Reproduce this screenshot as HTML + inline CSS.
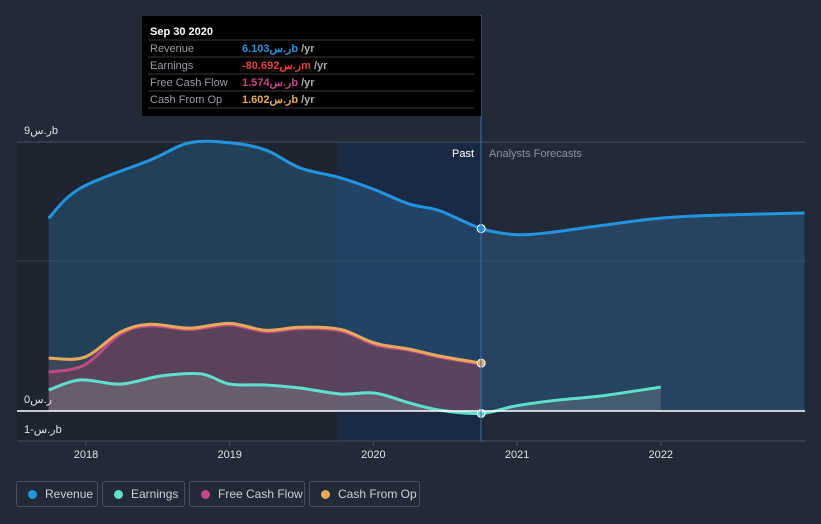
<!DOCTYPE html>
<html><head><meta charset="utf-8"><style>
body{margin:0;background:#232a37;font-family:"Liberation Sans","Noto Sans CJK SC",sans-serif;}
#wrap{position:relative;width:821px;height:524px;overflow:hidden;}
.leg{position:absolute;top:481px;height:26px;border:1px solid #4a515e;border-radius:3px;color:#cdd0d6;font-size:12px;line-height:25px;box-sizing:border-box;padding-left:27px;white-space:nowrap;}
.leg i{position:absolute;left:11px;top:8px;width:9px;height:9px;border-radius:50%;}
</style></head><body><div id="wrap">
<svg id="svg" width="821" height="524" style="position:absolute;left:0;top:0">
<rect x="17" y="142" width="320" height="299" fill="#1f2530"/>
<rect x="337" y="142" width="144" height="299" fill="#1a2a44"/>
<line x1="17" x2="805" y1="142" y2="142" stroke="#4a505c"/>
<line x1="17" x2="805" y1="261" y2="261" stroke="#3a404c"/>
<line x1="17" x2="805" y1="441" y2="441" stroke="#4a505c"/>
<g id="series"></g>
<line x1="17" x2="805" y1="411" y2="411" stroke="#ffffff" stroke-width="1.5"/>
<line x1="481" x2="481" y1="15" y2="441" stroke="#3f6fa8"/>
<text x="24" y="134" fill="#e0e2e6" font-size="11">ر.س9b</text>
<text x="24" y="403" fill="#e0e2e6" font-size="11">ر.س0</text>
<text x="24" y="433" fill="#e0e2e6" font-size="11">ر.س-1b</text>
<text x="474" y="157" fill="#fff" font-size="11" text-anchor="end">Past</text>
<text x="489" y="157" fill="#8a909b" font-size="11">Analysts Forecasts</text>
<g id="xt"></g>
<rect x="142" y="16" width="339" height="100" fill="#000"/>
<text x="150" y="35" fill="#fff" font-size="11" font-weight="bold">Sep 30 2020</text>
<g stroke="#3a3a3a"><line x1="148" x2="474" y1="40" y2="40"/><line x1="148" x2="474" y1="57" y2="57"/><line x1="148" x2="474" y1="74" y2="74"/><line x1="148" x2="474" y1="91" y2="91"/><line x1="148" x2="474" y1="108" y2="108"/></g>
<g font-size="11" fill="#9a9ea6">
<text x="150" y="52">Revenue</text><text x="150" y="69">Earnings</text><text x="150" y="86">Free Cash Flow</text><text x="150" y="103">Cash From Op</text></g>
<g font-size="11" font-weight="bold">
<text x="242" y="52" fill="#2394df">6.103ر.سb <tspan fill="#aaa">/yr</tspan></text>
<text x="242" y="69" fill="#e8413e">-80.692ر.سm <tspan fill="#aaa">/yr</tspan></text>
<text x="242" y="86" fill="#c8468a">1.574ر.سb <tspan fill="#aaa">/yr</tspan></text>
<text x="242" y="103" fill="#e7a95a">1.602ر.سb <tspan fill="#aaa">/yr</tspan></text>
</g>
</svg>
<div class="leg" style="left:16px;width:82px;padding-left:28px"><i style="background:#2394df"></i>Revenue</div>
<div class="leg" style="left:102px;width:83px;padding-left:28px"><i style="background:#5ee0cc"></i>Earnings</div>
<div class="leg" style="left:189px;width:116px;padding-left:28px"><i style="background:#c8468a"></i>Free Cash Flow</div>
<div class="leg" style="left:309px;width:111px;padding-left:28px"><i style="background:#e7a95a"></i>Cash From Op</div>
</div>
<script>
const years=[2018,2019,2020,2021,2022];
const revX=[2017.74,2017.96,2018.45,2018.72,2019.0,2019.25,2019.49,2019.77,2020.01,2020.25,2020.46,2020.75,2020.99,2021.23,2021.58,2022.0,2022.41,2023.0];
const revY=[6.45,7.45,8.4,8.97,8.97,8.73,8.13,7.8,7.4,6.92,6.7,6.1,5.9,5.97,6.2,6.45,6.55,6.62];
const cfoX=[2017.74,2017.99,2018.24,2018.45,2018.72,2019.0,2019.25,2019.49,2019.77,2020.01,2020.25,2020.46,2020.75];
const cfoY=[1.77,1.8,2.64,2.9,2.77,2.93,2.7,2.8,2.73,2.27,2.07,1.84,1.6];
const fcfY=[1.3,1.54,2.57,2.85,2.72,2.88,2.65,2.75,2.68,2.22,2.03,1.8,1.57];
const earnX=[2017.74,2017.96,2018.24,2018.52,2018.8,2019.0,2019.25,2019.49,2019.77,2020.01,2020.25,2020.46,2020.75,2020.99,2021.29,2021.58,2022.0];
const earnY=[0.7,1.04,0.9,1.17,1.24,0.9,0.87,0.77,0.57,0.6,0.27,0.03,-0.08,0.17,0.37,0.5,0.8];
const X=t=>86+(t-2018)*143.7, Y=v=>411-v*29.9;
const NS='http://www.w3.org/2000/svg';
function path(xs,ys){const p=xs.map((x,i)=>[X(x),Y(ys[i])]);let d='M'+p[0];
for(let i=0;i<p.length-1;i++){const a=p[i-1]||p[i],b=p[i],c=p[i+1],e=p[i+2]||c;
d+=' C'+(b[0]+(c[0]-a[0])/6)+','+(b[1]+(c[1]-a[1])/6)+' '+(c[0]-(e[0]-b[0])/6)+','+(c[1]-(e[1]-b[1])/6)+' '+c;}return d;}
const g=document.getElementById('series');
function series(xs,ys,col,fill,op,name){
const a=document.createElementNS(NS,'path');
a.setAttribute('d',path(xs,ys)+' L'+X(xs[xs.length-1])+','+Y(0)+' L'+X(xs[0])+','+Y(0)+'Z');
a.setAttribute('fill',fill);a.setAttribute('fill-opacity',op);


g.appendChild(a);
const l=document.createElementNS(NS,'path');
l.setAttribute('d',path(xs,ys));l.setAttribute('fill','none');l.setAttribute('stroke',col);l.setAttribute('stroke-width','3');


g.appendChild(l);}
series(revX,revY,'#2394df','#2a6a9a',0.4,'revenue');
series(cfoX,fcfY,'#c8468a','#7a3a58',0.45,'free-cash-flow');
series(cfoX,cfoY,'#e7a95a','#9a6060',0.2,'cash-from-op');
series(earnX,earnY,'#5ee0cc','#8a9a9a',0.3,'earnings');
[[2020.75,6.1,'#2394df','revenue'],[2020.75,1.6,'#e7a95a','cash-from-op'],[2020.75,-0.08,'#5ee0cc','earnings']].forEach(d=>{
const c=document.createElementNS(NS,'circle');c.setAttribute('cx',X(d[0]));c.setAttribute('cy',Y(d[1]));c.setAttribute('r',4);
c.setAttribute('fill',d[2]);c.setAttribute('stroke','#fff');c.setAttribute('stroke-width','1');


g.appendChild(c);});
const xt=document.getElementById('xt');
years.forEach(y=>{const t=document.createElementNS(NS,'text');t.setAttribute('x',X(y));t.setAttribute('y',458);
t.setAttribute('fill','#e0e2e6');t.setAttribute('font-size','11');t.setAttribute('text-anchor','middle');t.textContent=y;


xt.appendChild(t);
const l=document.createElementNS(NS,'line');l.setAttribute('x1',X(y));l.setAttribute('x2',X(y));l.setAttribute('y1',441);l.setAttribute('y2',446);l.setAttribute('stroke','#4a505c');xt.appendChild(l);});
</script></body></html>
